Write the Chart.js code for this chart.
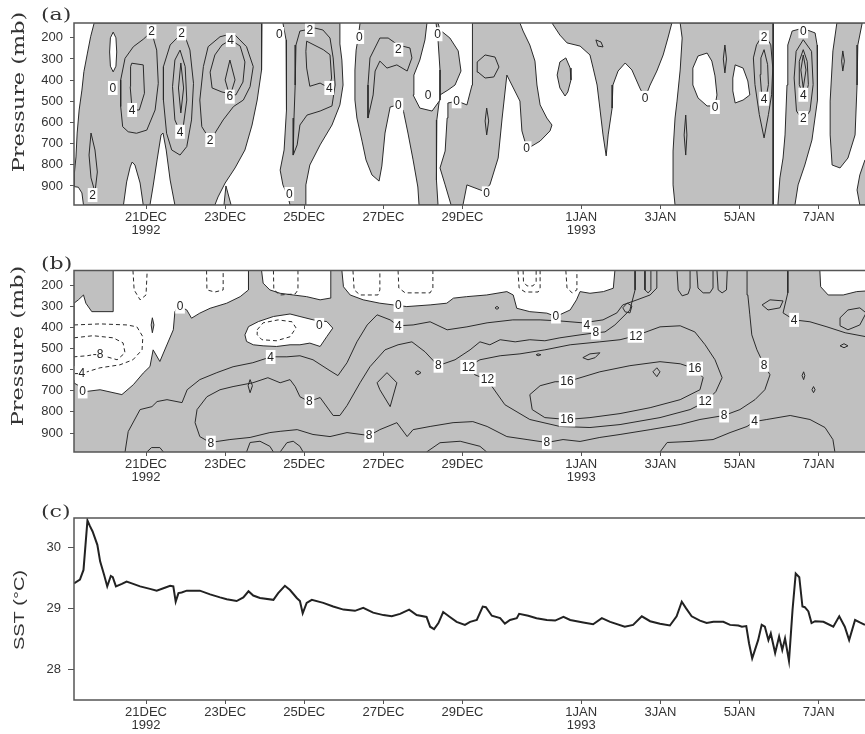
<!DOCTYPE html>
<html>
<head>
<meta charset="utf-8">
<script src="https://cdn.jsdelivr.net/npm/chart.js@4.4.0/dist/chart.umd.min.js"></script>
<style>
  html, body { margin: 0; padding: 0; background: #fff; overflow: hidden; }
  body { width: 865px; height: 734px; position: relative; }
  canvas { position: absolute; left: 0; }
</style>
</head>
<body>
<canvas id="chartA" width="880" height="246" style="top:0px"></canvas>
<canvas id="chartB" width="880" height="248" style="top:246px"></canvas>
<canvas id="chartC" width="880" height="240" style="top:494px"></canvas>
<script>
// time axis: day of December 1992 (1 JAN = 32)
const tickDays = [21, 23, 25, 27, 29, 32, 34, 36, 38];
const tickText = [['21DEC', '1992'], '23DEC', '25DEC', '27DEC', '29DEC', ['1JAN', '1993'], '3JAN', '5JAN', '7JAN'];
const pressureTicks = [200, 300, 400, 500, 600, 700, 800, 900];
const sstTicks = [28, 29, 30];

// ---- panel (a): shaded (positive) areas, holes, contour lines, labels  [day, mb]
const aGrayAreas = [
  [[19.69,130],[23.93,130],[23.93,234],[23.91,352],[23.81,494],[23.68,612],[23.50,730],[23.25,815],[23.00,886],[22.82,952],[22.74,990],[19.42,990],[19.38,933],[19.29,906],[19.18,903],[19.18,848],[19.20,839],[19.23,763],[19.26,650],[19.31,541],[19.38,447],[19.43,360],[19.52,272],[19.60,195]],
  [[22.97,990],[23.02,900],[23.15,990]],
  [[24.46,130],[24.54,210],[24.56,352],[24.54,541],[24.49,730],[24.39,825],[24.46,895],[24.59,952],[24.64,990],[25.02,990],[25.04,895],[25.14,801],[25.40,706],[25.70,612],[25.90,517],[25.98,423],[25.95,305],[25.90,229],[25.90,130]],
  [[26.41,130],[28.38,130],[28.43,163],[28.68,201],[28.89,262],[28.96,357],[28.81,423],[28.63,447],[28.43,470],[28.35,588],[28.33,730],[28.35,872],[28.38,990],[27.90,990],[27.87,905],[27.75,777],[27.62,650],[27.50,541],[27.37,517],[27.17,527],[27.04,650],[26.96,806],[26.89,877],[26.71,848],[26.56,777],[26.46,688],[26.33,579],[26.28,494],[26.28,352],[26.31,258],[26.36,201]],
  [[29.24,130],[30.45,130],[30.53,168],[30.70,234],[30.83,310],[30.88,423],[30.96,517],[31.13,579],[31.26,612],[31.21,640],[30.96,688],[30.63,725],[30.50,640],[30.45,499],[30.12,376],[30.00,579],[29.90,768],[29.69,895],[29.52,924],[29.11,895],[29.01,990],[28.71,990],[28.56,895],[28.43,815],[28.56,735],[28.61,579],[28.63,508],[28.86,499],[29.11,517],[29.24,423],[29.26,262]],
  [[31.26,130],[34.29,130],[34.19,201],[34.07,281],[33.91,357],[33.74,423],[33.61,484],[33.48,437],[33.28,352],[33.11,319],[32.93,357],[32.80,423],[32.78,532],[32.68,659],[32.63,758],[32.55,659],[32.47,532],[32.40,423],[32.30,343],[32.22,281],[31.97,239],[31.64,224],[31.46,187]],
  [[31.61,295],[31.72,343],[31.74,399],[31.66,456],[31.59,475],[31.46,437],[31.39,376],[31.46,314]],
  [[34.50,130],[36.85,130],[36.85,990],[34.37,990],[34.32,895],[34.32,735],[34.37,579],[34.42,499],[34.50,352],[34.55,201]],
  [[37.33,168],[37.53,158],[37.71,163],[37.91,177],[37.96,234],[37.98,343],[37.96,494],[37.83,683],[37.65,801],[37.48,895],[37.40,990],[36.97,990],[37.02,862],[37.10,768],[37.15,659],[37.20,423],[37.22,234]],
  [[38.46,130],[39.10,130],[38.99,234],[38.97,423],[38.92,659],[38.74,768],[38.54,815],[38.34,801],[38.29,659],[38.29,499],[38.36,262]],
  [[39.17,777],[39.60,777],[39.60,990],[39.04,990],[38.97,919],[39.04,848]]
];
const aWhiteAreas = [
  [[20.17,173],[20.24,200],[20.26,267],[20.24,334],[20.17,361],[20.10,334],[20.08,267],[20.10,200]],
  [[20.43,990],[20.51,881],[20.60,810],[20.65,787],[20.72,801],[20.85,886],[20.93,990]],
  [[21.10,990],[21.18,900],[21.28,777],[21.38,659],[21.43,650],[21.51,730],[21.61,872],[21.73,990]],
  [[28.10,130],[28.33,130],[28.38,210],[28.43,352],[28.43,494],[28.23,546],[27.92,532],[27.75,470],[27.77,376],[27.92,305],[28.05,210]],
  [[34.95,286],[35.18,272],[35.30,310],[35.38,380],[35.43,470],[35.38,522],[35.18,522],[34.95,484],[34.82,423],[34.82,343]],
  [[35.89,328],[36.09,343],[36.21,404],[36.26,470],[36.09,494],[35.89,508],[35.83,451],[35.83,390]]
];
const aContours = [
  [[19.61,650],[19.71,730],[19.77,834],[19.71,929],[19.61,862],[19.56,754],[19.61,650]],
  [[21.14,171],[20.93,207],[20.68,242],[20.47,297],[20.36,399],[20.36,525],[20.41,620],[20.55,644],[20.76,651],[21.02,636],[21.23,541],[21.31,415],[21.27,258],[21.14,171]],
  [[20.64,320],[20.93,328],[20.96,462],[20.83,541],[20.65,541],[20.60,431],[20.61,336],[20.64,320]],
  [[21.90,179],[21.61,234],[21.44,336],[21.44,494],[21.52,651],[21.65,730],[21.86,754],[22.03,714],[22.15,588],[22.20,415],[22.11,258],[21.99,195],[21.90,179]],
  [[21.86,258],[21.99,336],[22.03,494],[21.94,620],[21.86,644],[21.73,588],[21.67,431],[21.73,305],[21.86,258]],
  [[21.88,319],[21.95,437],[21.88,555],[21.82,437],[21.88,319]],
  [[22.41,620],[22.36,494],[22.45,336],[22.57,242],[22.87,195],[23.21,179],[23.54,242],[23.71,336],[23.63,431],[23.46,494],[23.21,525],[22.95,588],[22.74,651],[22.62,683],[22.41,620]],
  [[23.14,210],[23.38,239],[23.50,314],[23.45,409],[23.27,470],[22.92,456],[22.67,437],[22.62,362],[22.74,281],[22.92,234],[23.14,210]],
  [[23.12,305],[23.25,399],[23.12,478],[23.00,399],[23.12,305]],
  [[25.27,154],[24.89,168],[24.79,234],[24.77,423],[24.74,579],[24.72,754],[24.82,706],[24.89,612],[25.07,565],[25.40,546],[25.70,522],[25.78,423],[25.73,295],[25.65,201],[25.47,163],[25.27,154]],
  [[25.06,216],[25.48,256],[25.65,280],[25.69,390],[25.63,437],[25.40,414],[25.14,429],[25.06,343],[25.04,264],[25.06,216]],
  [[26.91,201],[26.66,295],[26.61,423],[26.61,579],[26.74,470],[26.79,357],[26.91,310],[27.09,343],[27.34,328],[27.60,357],[27.72,295],[27.67,248],[27.37,234],[27.12,201],[26.91,201]],
  [[29.37,314],[29.57,281],[29.82,291],[29.92,338],[29.79,385],[29.57,390],[29.39,362],[29.37,314]],
  [[29.61,532],[29.66,593],[29.61,659],[29.57,593],[29.61,532]],
  [[32.37,210],[32.50,220],[32.55,243],[32.42,239],[32.37,210]],
  [[35.63,234],[35.67,300],[35.63,366],[35.59,300],[35.63,234]],
  [[34.64,565],[34.67,659],[34.64,754],[34.60,659],[34.64,565]],
  [[36.62,177],[36.79,233],[36.84,343],[36.81,469],[36.73,563],[36.62,673],[36.50,563],[36.39,421],[36.35,295],[36.43,233],[36.62,177]],
  [[36.62,256],[36.71,327],[36.73,421],[36.67,484],[36.56,469],[36.52,374],[36.54,295],[36.62,256]],
  [[37.61,209],[37.82,264],[37.86,421],[37.78,546],[37.61,593],[37.44,546],[37.38,390],[37.43,264],[37.61,209]],
  [[37.61,256],[37.71,311],[37.74,421],[37.65,492],[37.51,421],[37.51,311],[37.61,256]],
  [[37.61,281],[37.68,352],[37.61,437],[37.55,352],[37.61,281]],
  [[38.61,262],[38.65,310],[38.61,357],[38.58,310],[38.61,262]]
];
const aLabels = [
  [19.65,943,'2'],[20.16,437,'0'],[20.65,541,'4'],[21.14,171,'2'],[21.90,179,'2'],[21.86,644,'4'],
  [23.14,210,'4'],[23.12,478,'6'],[22.62,683,'2'],[24.37,182,'0'],[24.62,938,'0'],[25.14,162,'2'],
  [25.63,437,'4'],[26.39,196,'0'],[27.38,256,'2'],[27.38,517,'0'],[28.37,183,'0'],[28.13,472,'0'],
  [28.85,500,'0'],[29.61,935,'0'],[30.62,722,'0'],[33.61,484,'0'],[35.38,527,'0'],[36.62,198,'2'],
  [36.62,488,'4'],[37.61,169,'0'],[37.61,469,'4'],[37.61,579,'2']
];

// ---- panel (b): unshaded (negative) areas on a shaded field
const bWhiteAreas = [
  [[20.17,130],[23.59,130],[23.59,222],[23.38,254],[23.04,285],[22.62,309],[22.36,332],[22.15,356],[22.03,317],[21.86,301],[21.78,309],[21.73,325],[21.69,411],[21.44,521],[21.35,561],[21.18,506],[21.10,585],[20.93,616],[20.68,671],[20.39,718],[19.84,695],[19.50,703],[19.33,679],[19.18,663],[19.18,285],[19.29,269],[19.42,246],[19.48,285],[19.63,325],[20.17,325]],
  [[23.50,435],[23.59,396],[23.84,372],[24.22,348],[24.64,336],[24.89,348],[25.23,364],[25.57,372],[25.72,403],[25.57,443],[25.40,490],[25.14,474],[24.89,482],[24.64,482],[24.30,490],[23.96,487],[23.71,482],[23.54,466]],
  [[23.92,130],[23.96,190],[24.13,222],[24.39,238],[24.72,246],[25.06,254],[25.40,269],[25.65,261],[25.67,130]],
  [[25.95,130],[25.99,207],[26.16,246],[26.49,269],[26.91,285],[27.25,293],[27.59,301],[28.18,293],[28.60,285],[28.77,261],[29.10,254],[29.61,246],[30.12,230],[30.28,246],[30.37,309],[30.70,325],[31.13,332],[31.36,348],[31.72,317],[31.88,269],[31.97,230],[32.22,238],[32.56,230],[32.81,214],[32.85,130]],
  [[38.03,130],[38.05,207],[38.24,246],[38.62,246],[38.96,230],[39.60,222],[39.60,130]]
];
const bGrayAreas = [
  [[21.16,354],[21.20,388],[21.16,425],[21.13,388]]
];
const bContours = [
  [[20.47,990],[20.55,893],[20.85,789],[21.15,775],[21.28,751],[21.53,742],[21.91,756],[22.04,695],[22.36,647],[22.79,614],[23.20,586],[23.70,567],[24.16,539],[24.56,539],[24.89,534],[25.22,553],[25.65,605],[25.85,628],[26.08,567],[26.33,468],[26.59,388],[26.84,340],[27.17,364],[27.37,392],[27.75,388],[28.18,373],[28.61,411],[29.11,397],[29.62,378],[30.27,364],[30.96,364],[31.46,369],[32.04,378],[32.55,364],[32.90,331],[33.05,293],[33.41,269],[33.74,246],[33.91,213],[33.91,130]],
  [[37.22,130],[37.22,236],[37.10,331],[37.38,364],[37.78,373],[38.21,397],[38.67,425],[39.60,458]],
  [[38.54,354],[38.74,317],[39.04,307],[39.20,331],[39.04,388],[38.74,411],[38.54,392],[38.54,354]],
  [[33.99,990],[34.17,945],[34.75,940],[35.33,931],[35.76,898],[36.19,869],[36.37,846],[36.69,836],[37.28,817],[37.78,836],[38.16,874],[38.36,931],[38.41,990]],
  [[33.36,130],[33.36,222],[33.23,317],[32.85,388],[32.60,421],[32.37,425],[31.97,435],[31.46,449],[31.08,463],[30.70,458],[30.33,468],[29.95,458],[29.69,482],[29.44,468],[29.19,506],[28.81,553],[28.38,581],[28.05,515],[27.72,468],[27.37,482],[27.04,506],[26.66,586],[26.41,662],[26.08,770],[25.90,817],[25.73,817],[25.40,732],[25.12,751],[24.89,728],[24.77,680],[24.64,647],[24.39,662],[24.08,638],[23.70,662],[23.20,680],[22.87,695],[22.54,728],[22.29,789],[22.24,851],[22.36,917],[22.62,945],[23.12,931],[23.63,921],[24.13,898],[24.39,892],[24.82,884],[25.22,907],[25.65,917],[26.08,898],[26.64,912],[26.91,884],[27.34,851],[27.60,917],[27.75,884],[28.18,869],[28.76,851],[29.26,846],[29.62,869],[30.12,917],[30.63,931],[31.13,945],[31.54,931],[31.97,940],[32.47,921],[32.98,907],[33.74,884],[34.50,860],[35.00,836],[35.61,817],[36.01,789],[36.39,742],[36.64,695],[36.77,624],[36.62,577],[36.44,506],[36.31,435],[36.26,340],[36.21,246],[36.19,130]],
  [[29.14,586],[29.44,553],[29.95,534],[30.45,525],[31.08,506],[31.72,482],[32.47,468],[32.98,458],[33.38,439],[33.99,397],[34.50,392],[34.87,421],[35.13,482],[35.38,553],[35.56,638],[35.40,704],[35.15,751],[34.75,789],[33.99,827],[32.98,860],[32.22,874],[31.46,869],[30.70,836],[30.07,766],[29.62,647],[29.31,624],[29.14,586]],
  [[31.64,657],[32.47,610],[33.23,581],[33.99,562],[34.50,572],[34.87,595],[35.08,638],[35.00,695],[34.50,742],[33.74,780],[32.98,808],[32.22,827],[31.64,836],[31.08,827],[30.76,789],[30.70,718],[30.96,676],[31.34,657],[31.64,657]],
  [[26.84,662],[27.09,614],[27.34,662],[27.17,775],[26.91,695],[26.84,662]],
  [[27.80,614],[27.87,605],[27.95,614],[27.87,624],[27.80,614]],
  [[33.05,307],[33.16,284],[33.28,298],[33.23,331],[33.11,326],[33.05,307]],
  [[33.81,610],[33.91,591],[33.99,610],[33.91,633],[33.81,610]],
  [[32.04,543],[32.22,525],[32.47,520],[32.35,543],[32.17,553],[32.04,543]],
  [[37.62,610],[37.65,628],[37.62,647],[37.58,628],[37.62,610]],
  [[37.87,680],[37.91,695],[37.87,709],[37.83,695],[37.87,680]],
  [[36.57,293],[36.77,269],[37.10,274],[37.02,307],[36.72,317],[36.57,293]],
  [[38.54,487],[38.64,477],[38.74,487],[38.64,496],[38.54,487]],
  [[23.63,647],[23.69,676],[23.63,709],[23.58,676],[23.63,647]],
  [[30.86,529],[30.91,525],[30.98,529],[30.91,534],[30.86,529]],
  [[29.82,307],[29.87,300],[29.92,307],[29.87,314],[29.82,307]],
  [[21.02,990],[21.14,969],[21.35,969],[21.44,990]],
  [[23.54,990],[23.63,945],[23.88,939],[24.13,963],[24.22,990]],
  [[24.39,990],[24.56,946],[24.72,939],[24.89,963],[24.97,990]],
  [[28.09,990],[28.43,946],[28.94,939],[29.44,963],[29.61,990]],
  [[33.61,130],[33.61,222],[33.69,236],[33.76,222],[33.76,130]],
  [[34.42,130],[34.45,222],[34.55,250],[34.70,241],[34.75,213],[34.75,130]],
  [[34.92,130],[34.95,213],[35.08,236],[35.25,236],[35.33,213],[35.33,130]],
  [[35.43,130],[35.46,222],[35.56,236],[35.67,222],[35.69,130]]
];
const bDashed = [
  [[19.18,388],[19.84,383],[20.52,388],[20.77,397],[20.92,444],[20.90,506],[20.67,553],[20.34,577],[19.84,591],[19.51,610],[19.18,619]],
  [[19.18,449],[19.66,439],[20.17,449],[20.42,473],[20.47,520],[20.27,553],[20.01,539],[19.79,525],[19.51,534],[19.18,539]],
  [[20.67,130],[20.70,222],[20.85,269],[21.00,246],[21.03,130]],
  [[22.53,130],[22.54,222],[22.74,232],[22.95,222],[22.95,130]],
  [[23.81,411],[23.96,378],[24.34,364],[24.69,373],[24.79,402],[24.64,444],[24.29,463],[23.93,458],[23.81,435],[23.81,411]],
  [[24.22,130],[24.23,222],[24.39,246],[24.77,241],[24.84,222],[24.84,130]],
  [[26.23,130],[26.26,222],[26.41,246],[26.86,246],[26.91,222],[26.91,130]],
  [[27.37,130],[27.39,213],[27.55,236],[28.18,236],[28.25,213],[28.25,130]],
  [[30.40,130],[30.43,213],[30.58,232],[30.91,232],[30.96,213],[30.96,130]],
  [[30.53,130],[30.54,184],[30.63,203],[30.78,203],[30.86,184],[30.86,130]],
  [[31.61,130],[31.64,213],[31.77,236],[31.89,222],[31.89,130]]
];
const bLabels = [
  [21.86,301,'0'],[19.40,703,'0'],[25.38,388,'0'],[27.38,293,'0'],[31.36,348,'0'],
  [19.79,525,'-8'],[19.33,616,'-4'],
  [24.15,540,'4'],[27.38,392,'4'],[32.14,388,'4'],[37.38,364,'4'],[36.38,845,'4'],
  [22.64,946,'8'],[25.13,750,'8'],[26.64,912,'8'],[28.39,581,'8'],[32.37,424,'8'],[36.62,577,'8'],[35.61,817,'8'],[31.13,944,'8'],
  [29.15,587,'12'],[29.63,647,'12'],[33.38,439,'12'],[35.13,750,'12'],
  [31.64,656,'16'],[31.64,836,'16'],[34.87,595,'16']
];

// ---- panel (c): SST
const sstDays = [19.18,19.33,19.42,19.52,19.58,19.65,19.77,19.84,19.94,20.02,20.11,20.16,20.24,20.39,20.51,20.64,20.85,21.10,21.27,21.44,21.61,21.69,21.75,21.82,21.90,22.03,22.36,22.62,22.87,23.04,23.29,23.46,23.59,23.71,23.88,24.22,24.34,24.51,24.64,24.81,24.89,
  24.96,25.06,25.19,25.48,25.73,25.99,26.28,26.49,26.74,27.00,27.21,27.42,27.65,27.84,28.09,28.18,28.28,28.39,28.51,28.68,28.85,29.06,29.19,29.36,29.51,29.59,29.74,29.95,30.07,30.20,30.37,30.43,30.66,30.87,31.13,31.34,31.55,31.72,
  32.05,32.30,32.52,32.73,33.10,33.31,33.53,33.74,33.99,34.24,34.41,34.54,34.65,34.79,35.00,35.17,35.34,35.59,35.76,35.97,36.06,36.17,36.24,36.32,36.39,36.47,36.56,36.64,36.73,36.79,36.90,37.00,37.08,37.15,37.25,37.34,37.42,37.51,37.59,37.65,37.74,37.82,37.91,38.12,38.37,38.52,38.66,38.77,38.92,39.04,39.17];
const sstValues = [29.41,29.47,29.63,30.44,30.35,30.26,30.04,29.77,29.55,29.36,29.53,29.51,29.36,29.40,29.44,29.41,29.36,29.32,29.29,29.33,29.37,29.36,29.11,29.25,29.26,29.29,29.29,29.23,29.18,29.15,29.12,29.18,29.28,29.21,29.17,29.14,29.25,29.37,29.30,29.17,29.12,
  28.92,29.09,29.14,29.09,29.03,28.98,28.96,29.01,28.93,28.89,28.87,28.91,28.98,28.89,28.86,28.70,28.66,28.76,28.94,28.86,28.78,28.73,28.78,28.81,29.03,29.02,28.88,28.84,28.75,28.81,28.84,28.91,28.88,28.84,28.81,28.80,28.86,28.81,
  28.77,28.74,28.84,28.78,28.70,28.73,28.87,28.79,28.75,28.72,28.87,29.11,29.00,28.87,28.80,28.76,28.78,28.78,28.73,28.72,28.70,28.71,28.43,28.18,28.32,28.48,28.73,28.70,28.48,28.59,28.27,28.54,28.32,28.51,28.14,28.98,29.57,29.51,29.03,29.02,28.95,28.76,28.79,28.78,28.70,28.87,28.70,28.48,28.81,28.77,28.73];

const X_MIN = 19.18, X_MAX = 39.55;
const SHADE = '#c0c0c0';
const INK = '#2a2a2a';
const TICK_FONT = { family: '"Liberation Sans", Arial, sans-serif', size: 13, lineHeight: 1.0 };

const toPts = arr => arr.map(([x, y]) => ({ x, y }));

function areaSet(poly, color, order) {
  return { data: toPts([...poly, poly[0]]), fill: 'shape', backgroundColor: color,
    borderColor: INK, borderWidth: 1, pointRadius: 0, tension: 0, order: order };
}
function lineSet(line, dashed) {
  return { data: toPts(line), fill: false, borderColor: INK, borderWidth: 1,
    borderDash: dashed ? [4, 3] : [], pointRadius: 0, tension: 0, order: 1 };
}

function timeAxis(height) {
  return {
    type: 'linear', min: X_MIN, max: X_MAX,
    afterBuildTicks: s => { s.ticks = tickDays.map(v => ({ value: v })); },
    afterFit: s => { s.height = height; },
    ticks: { autoSkip: false, maxRotation: 0, minRotation: 0, padding: 2, color: '#333', font: TICK_FONT,
      callback: v => tickText[tickDays.indexOf(v)] },
    grid: { drawOnChartArea: false, drawTicks: true, tickLength: 4, color: '#555' },
    border: { display: false }
  };
}
function valueAxis(min, max, ticks, reverse, tickLen, pad) {
  return {
    type: 'linear', min: min, max: max, reverse: reverse,
    afterBuildTicks: s => { s.ticks = ticks.map(v => ({ value: v })); },
    afterFit: s => { s.width = 74; },
    ticks: { padding: pad, color: '#333', font: TICK_FONT },
    grid: { drawOnChartArea: false, drawTicks: true, tickLength: tickLen, color: '#555' },
    border: { display: false }
  };
}

// frame, panel letter, axis title, contour labels, optional shaded background
function decor(cfg) {
  return {
    id: 'decor',
    beforeDatasetsDraw(chart) {
      if (!cfg.background) return;
      const a = chart.chartArea, ctx = chart.ctx;
      ctx.save();
      ctx.fillStyle = cfg.background;
      ctx.fillRect(a.left, a.top, a.right - a.left, a.bottom - a.top);
      ctx.restore();
    },
    afterDatasetsDraw(chart) {
      if (!cfg.labels) return;
      const ctx = chart.ctx, sx = chart.scales.x, sy = chart.scales.y;
      ctx.save();
      ctx.font = '12px "Liberation Sans", Arial, sans-serif';
      ctx.textAlign = 'center';
      ctx.textBaseline = 'middle';
      for (const [d, p, t] of cfg.labels) {
        const x = sx.getPixelForValue(d), y = sy.getPixelForValue(p);
        const w = ctx.measureText(t).width + 3;
        ctx.fillStyle = '#fff';
        ctx.fillRect(x - w / 2, y - 7, w, 14);
        ctx.fillStyle = '#222';
        ctx.fillText(t, x, y + 0.5);
      }
      ctx.restore();
    },
    afterDraw(chart) {
      const ctx = chart.ctx, a = chart.chartArea;
      ctx.save();
      ctx.strokeStyle = '#555';
      ctx.lineWidth = 1.5;
      ctx.strokeRect(a.left, a.top, a.right - a.left + 20, a.bottom - a.top);
      ctx.fillStyle = '#333';
      ctx.save();
      ctx.translate(41, cfg.letterY);
      ctx.scale(1.3, 1);
      ctx.font = '17px "DejaVu Serif", serif';
      ctx.fillText(cfg.letter, 0, 0);
      ctx.restore();
      ctx.save();
      ctx.translate(cfg.titleX, cfg.titleY);
      ctx.rotate(-Math.PI / 2);
      ctx.scale(cfg.stretch, 1);
      ctx.font = cfg.titleFont;
      ctx.textAlign = 'center';
      ctx.textBaseline = 'middle';
      ctx.fillText(cfg.title, 0, 0);
      ctx.restore();
      ctx.restore();
    }
  };
}

function baseOptions(top, xHeight, yAxis) {
  return {
    responsive: false, animation: false, events: [],
    layout: { padding: { top: top, left: 0, right: 0, bottom: 0 } },
    plugins: { legend: { display: false }, tooltip: { enabled: false } },
    scales: { x: timeAxis(xHeight), y: yAxis }
  };
}

// panel (a)
new Chart(document.getElementById('chartA'), {
  type: 'line',
  data: { datasets: [
    ...aContours.map(l => lineSet(l, false)),
    ...aWhiteAreas.map(p => areaSet(p, '#ffffff', 2)),
    ...aGrayAreas.map(p => areaSet(p, SHADE, 3))
  ] },
  options: baseOptions(23, 41, valueAxis(130, 990, pressureTicks, true, 4, 7)),
  plugins: [decor({ labels: aLabels, letter: '(a)', letterY: 20, title: 'Pressure (mb)',
    titleX: 20, titleY: 92, stretch: 1.4, titleFont: '16px "DejaVu Serif", serif' })]
});

// panel (b)
new Chart(document.getElementById('chartB'), {
  type: 'line',
  data: { datasets: [
    ...bContours.map(l => lineSet(l, false)),
    ...bDashed.map(l => lineSet(l, true)),
    ...bGrayAreas.map(p => areaSet(p, SHADE, 2)),
    ...bWhiteAreas.map(p => areaSet(p, '#ffffff', 3))
  ] },
  options: baseOptions(24.5, 42, valueAxis(130, 990, pressureTicks, true, 4, 7)),
  plugins: [decor({ background: SHADE, labels: bLabels, letter: '(b)', letterY: 23, title: 'Pressure (mb)',
    titleX: 19, titleY: 100, stretch: 1.4, titleFont: '16px "DejaVu Serif", serif' })]
});

// panel (c)
new Chart(document.getElementById('chartC'), {
  type: 'line',
  data: { datasets: [{
    data: sstDays.map((d, i) => ({ x: d, y: sstValues[i] })),
    borderColor: '#222', borderWidth: 2, pointRadius: 0, tension: 0, fill: false
  }] },
  options: baseOptions(24, 34, valueAxis(27.5, 30.48, sstTicks, false, 6, 7)),
  plugins: [decor({ letter: '(c)', letterY: 23, title: 'SST (°C)',
    titleX: 20, titleY: 116, stretch: 1.33, titleFont: '15px "Liberation Sans", Arial, sans-serif' })]
});
</script>
</body>
</html>
